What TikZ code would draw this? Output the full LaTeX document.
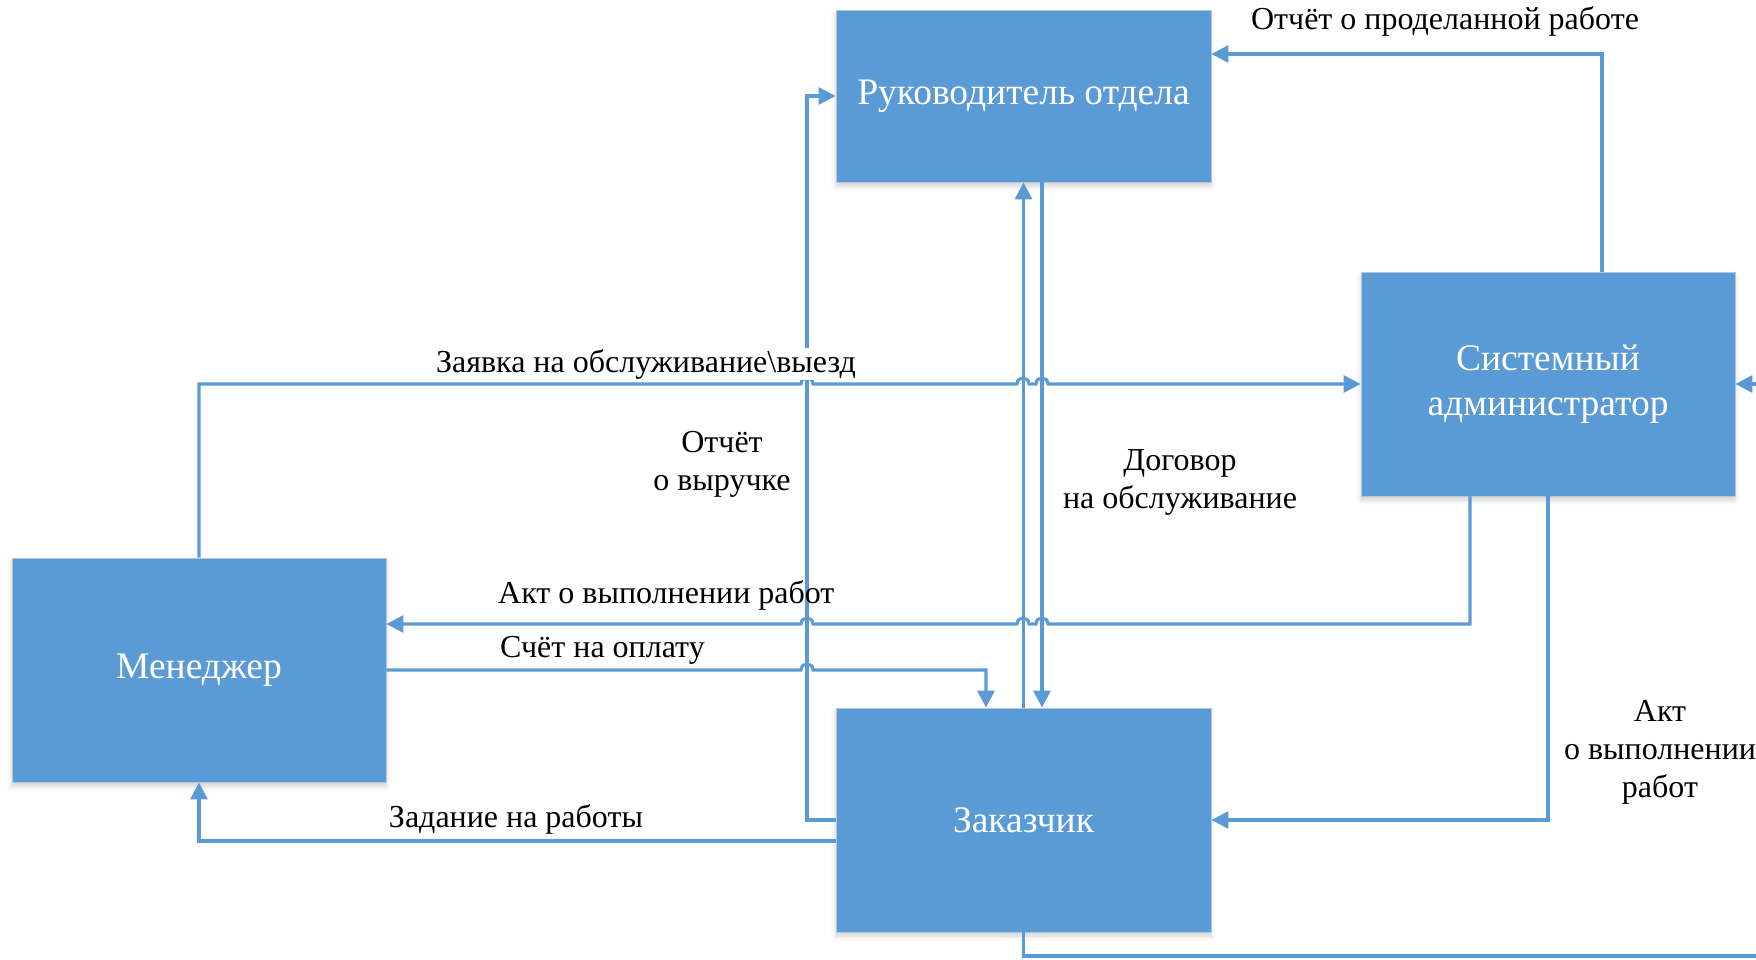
\documentclass[tikz,border=0pt]{standalone}
\usepackage{fontspec}
\setmainfont{Liberation Serif}
\usetikzlibrary{arrows.meta,shadows.blur}
\definecolor{boxblue}{HTML}{5B9BD5}
\definecolor{boxedge}{HTML}{B4C7DC}
\tikzset{
  unit/.style={font=\fontsize{37.5}{45}\selectfont, text=white, fill=boxblue,
    draw=boxedge, line width=0.8pt, align=center, inner sep=0pt,
    blur shadow={shadow xshift=0pt, shadow yshift=-4pt, shadow blur radius=5pt, shadow opacity=18}},
  link/.style={draw=boxblue, line width=3.1pt, line join=miter},
  flow/.style={link, -{Triangle[length=17pt,width=17pt]}},
  lbl/.style={font=\fontsize{32}{38}\selectfont, text=black, align=center, inner sep=1pt}
}
\begin{document}
\begin{tikzpicture}[x=1pt,y=-1pt]
\useasboundingbox (0,0) rectangle (1756,960);

% units
\node[unit, minimum width=375pt, minimum height=172pt] (ruk) at (1023.5,96) {Руководитель отдела};
\node[unit, minimum width=374pt, minimum height=224pt] (men) at (199,670) {Менеджер};
\node[unit, minimum width=374pt, minimum height=224pt] (sys) at (1548,384) {Системный\\администратор};
\node[unit, minimum width=375pt, minimum height=224pt] (zak) at (1023.5,820) {Заказчик};

% free ends at the picture border
\coordinate (rightin) at (1756,384);
\coordinate (bottomout) at (1756,956);

% Заявка: manager -> sysadmin, hopping over three verticals
\draw[flow] (men.north) -- (199,384) -- (801,384)
  .. controls (801,376) and (813,376) .. (813,384) -- (1017,384)
  .. controls (1017,376) and (1029,376) .. (1029,384) -- (1036,384)
  .. controls (1036,376) and (1048,376) .. (1048,384) -- (sys.west);

% Отчёт о выручке: customer -> head of department
\draw[flow] (zak.west) -- (807,820) -- (807,96) -- (ruk.west);

% Задание на работы: customer -> manager
\draw[flow] (zak.west |- 0,841) -- (199,841) -- (men.south);

% Договор: both directions between head and customer
\draw[flow] (zak.north) -- (ruk.south);
\draw[flow] (1042,0 |- ruk.south) -- (1042,0 |- zak.north);

% Акт о выполнении работ: sysadmin -> manager
\draw[flow] (1470,0 |- sys.south) -- (1470,624) -- (1048,624)
  .. controls (1048,616) and (1036,616) .. (1036,624) -- (1029,624)
  .. controls (1029,616) and (1017,616) .. (1017,624) -- (813,624)
  .. controls (813,616) and (801,616) .. (801,624) -- (men.east |- 0,624);

% Счёт на оплату: manager -> customer
\draw[flow] (men.east) -- (801,670)
  .. controls (801,662) and (813,662) .. (813,670) -- (986,670) -- (986,0 |- zak.north);

% Акт о выполнении работ: sysadmin -> customer
\draw[flow] (sys.south) -- (1548,820) -- (zak.east);

% Отчёт о проделанной работе: sysadmin -> head
\draw[flow] (1602,0 |- sys.north) -- (1602,54) -- (ruk.east |- 0,54);

% lines continuing beyond the border
\draw[link] (zak.south) -- (1023.5,956) -- (bottomout);
\draw[flow] (rightin) -- (sys.east);

% labels
\node[lbl, fill=white, anchor=base] (l1) at (646,372) {Заявка на обслуживание\textbackslash выезд};
\node[lbl] (l2) at (722,464) {Отчёт\\о выручке};
\node[lbl] (l3) at (1180,482) {Договор\\на обслуживание};
\node[lbl, anchor=west] (l4) at (497,595) {Акт о выполнении работ};
\node[lbl, anchor=west] (l5) at (499,650) {Счёт на оплату};
\node[lbl] (l6) at (516,819) {Задание на работы};
\node[lbl] (l7) at (1445,21) {Отчёт о проделанной работе};
\node[lbl] (l8) at (1660,752) {Акт\\о выполнении\\работ};
\end{tikzpicture}
\end{document}
